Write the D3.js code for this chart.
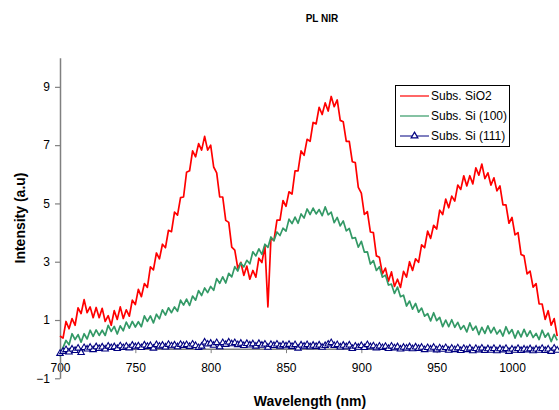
<!DOCTYPE html>
<html>
<head>
<meta charset="utf-8">
<script src="https://cdn.jsdelivr.net/npm/d3@7"></script>
<style>
  html, body { margin: 0; padding: 0; background: #fff; }
  svg { display: block; font-family: "Liberation Sans", Arial, sans-serif; }
</style>
</head>
<body>
<svg id="chart" width="559" height="410"></svg>
<script>
const title = "PL NIR";
const xLabel = "Wavelength (nm)";
const yLabel = "Intensity (a.u)";
const seriesNames = ["Subs. SiO2", "Subs. Si (100)", "Subs. Si (111)"];
const startWavelength = 700;
const stepWavelength = 2;
const xTicks = [700, 750, 800, 850, 900, 950, 1000];
const yTicks = [-1, 1, 3, 5, 7, 9];

const sio2 = [
0.45,0.38,0.95,0.70,1.05,0.82,1.42,1.22,1.70,1.25,
1.45,1.08,1.43,1.08,1.40,0.95,1.15,0.82,1.32,1.02,
1.45,1.05,1.35,1.13,1.68,1.53,2.05,1.80,2.25,2.12,
2.82,2.72,3.30,3.10,3.60,3.48,4.08,4.03,4.70,4.60,
5.20,5.22,6.07,6.12,6.80,6.60,7.05,6.83,7.30,6.83,
7.00,6.25,6.05,5.22,5.22,4.42,4.35,3.50,3.40,2.78,
2.98,2.53,2.85,2.40,2.70,2.47,3.12,2.97,3.55,1.45,
3.80,3.73,4.43,4.43,5.10,4.90,5.40,5.32,6.12,6.12,
6.80,6.65,7.20,7.13,7.78,7.73,8.30,8.05,8.45,8.17,
8.67,8.32,8.55,7.85,7.80,7.13,7.13,6.43,6.40,5.55,
5.35,4.62,4.72,4.02,4.00,3.20,3.15,2.58,2.78,2.33,
2.65,2.15,2.40,2.12,2.67,2.47,3.00,2.70,3.10,2.98,
3.58,3.48,4.05,3.80,4.25,4.12,4.77,4.62,5.15,4.85,
5.25,5.08,5.63,5.48,5.95,5.60,5.95,5.67,6.22,5.97,
6.35,5.85,6.05,5.63,5.88,5.43,5.60,4.95,4.95,4.32,
4.52,3.92,4.00,3.25,3.20,2.58,2.68,2.13,2.25,1.55,
1.55,1.02,1.32,0.82,1.05,0.45];

const si100 = [
-0.25,0.05,0.30,0.15,0.53,0.33,0.50,0.24,0.53,0.35,
0.65,0.44,0.66,0.47,0.65,0.47,0.82,0.61,0.78,0.52,
0.80,0.63,0.93,0.72,0.95,0.76,0.94,0.77,1.14,0.95,
1.14,0.90,1.20,1.04,1.35,1.17,1.42,1.25,1.45,1.30,
1.68,1.51,1.72,1.50,1.82,1.68,2.01,1.84,2.10,1.94,
2.15,2.02,2.42,2.26,2.48,2.27,2.60,2.48,2.83,2.68,
2.96,2.82,3.05,2.93,3.34,3.20,3.44,3.25,3.60,3.49,
3.85,3.72,4.02,3.90,4.15,4.05,4.46,4.31,4.53,4.32,
4.64,4.50,4.81,4.62,4.84,4.64,4.79,4.58,4.88,4.61,
4.70,4.34,4.52,4.23,4.40,4.06,4.14,3.80,3.83,3.50,
3.70,3.33,3.34,2.92,3.04,2.70,2.83,2.47,2.54,2.20,
2.23,1.91,2.13,1.80,1.85,1.48,1.65,1.37,1.57,1.27,
1.41,1.13,1.22,0.97,1.25,0.98,1.09,0.77,1.00,0.77,
1.01,0.75,0.92,0.68,0.81,0.59,0.90,0.65,0.79,0.50,
0.75,0.54,0.80,0.56,0.75,0.52,0.66,0.45,0.77,0.53,
0.67,0.38,0.63,0.42,0.68,0.44,0.63,0.40,0.54,0.33,
0.65,0.41,0.55,0.26,0.51,0.30];

const si111 = [
-0.15,-0.08,-0.02,-0.10,0.00,-0.05,0.03,-0.12,0.05,0.00,
0.06,-0.02,0.08,0.02,0.07,0.00,0.10,0.05,0.08,0.02,
0.11,0.05,0.10,0.04,0.13,0.08,0.11,0.05,0.14,0.09,
0.12,0.03,0.15,0.10,0.13,0.07,0.16,0.11,0.14,0.08,
0.16,0.12,0.15,0.09,0.17,0.12,0.05,0.10,0.24,0.17,
0.20,0.13,0.22,0.08,0.22,0.16,0.24,0.18,0.22,0.15,
0.20,0.12,0.19,0.14,0.18,0.10,0.19,0.13,0.17,0.06,
0.16,0.12,0.17,0.10,0.15,0.11,0.16,0.09,0.15,0.03,
0.14,0.10,0.15,0.08,0.13,0.09,0.14,0.06,0.12,0.17,
0.22,0.12,0.15,0.07,0.13,0.08,0.14,0.02,0.10,0.06,
0.12,0.05,0.15,0.08,0.11,0.04,0.10,0.05,0.09,0.02,
0.10,0.04,0.08,0.00,0.06,0.03,0.08,0.01,0.07,0.02,
0.06,-0.02,0.05,0.00,0.06,-0.03,0.04,-0.01,0.05,-0.04,
0.03,-0.02,0.04,-0.05,0.02,-0.02,0.03,-0.06,0.02,-0.03,
0.03,-0.05,0.01,-0.04,0.02,-0.06,0.01,-0.03,0.02,-0.08,
0.00,-0.04,0.02,-0.05,0.00,-0.03,0.01,-0.06,0.00,-0.04,
0.02,-0.05,0.00,-0.08,0.03,-0.04];

const colors = ["#ff0000", "#339966", "#000080"];

// ---- chart ----
const svg = d3.select("#chart");
const W = 559, H = 410;
svg.append("rect").attr("width", W).attr("height", H).attr("fill", "#fff");

const x = d3.scaleLinear().domain([700, 1000]).range([60, 512]);
const y = d3.scaleLinear().domain([-1, 10]).range([378.3, 57.7]);

const toPoints = vals => vals.map((v, i) => ({ w: startWavelength + i * stepWavelength, v }));
const series = [sio2, si100, si111].map(toPoints);

// axes
const axisColor = "#808080";
const xAxis = d3.axisBottom(x).tickValues(xTicks).tickFormat(d3.format("d"))
  .tickSize(4).tickPadding(10).tickSizeOuter(0);
const gx = svg.append("g").attr("transform", `translate(0,${y(0)})`).call(xAxis);
gx.select(".domain").remove();
gx.append("line").attr("x1", 60).attr("x2", W).attr("y1", 0).attr("y2", 0)
  .attr("stroke", axisColor).attr("stroke-width", 1.5);
gx.selectAll(".tick line").attr("stroke", axisColor);
gx.selectAll(".tick text").attr("fill", "#000").style("font-size", "12px")
  .style("font-family", '"Liberation Sans", Arial, sans-serif');

const yAxis = d3.axisLeft(y).tickValues(yTicks).tickFormat(d3.format("d"))
  .tickSize(5).tickPadding(5).tickSizeOuter(0);
const gy = svg.append("g").attr("transform", "translate(60,0)").call(yAxis);
gy.select(".domain").attr("stroke", axisColor).attr("stroke-width", 1.5);
gy.selectAll(".tick line").attr("stroke", axisColor).attr("stroke-width", 1.2);
gy.selectAll(".tick text").attr("fill", "#000").style("font-size", "12px")
  .style("font-family", '"Liberation Sans", Arial, sans-serif');

// lines
const line = d3.line().x(d => x(d.w)).y(d => y(d.v));
series.forEach((s, i) => {
  svg.append("path").datum(s).attr("fill", "none")
    .attr("stroke", colors[i]).attr("stroke-width", i === 2 ? 1.2 : 1.7)
    .attr("stroke-linejoin", "round").attr("d", line);
});
const tri = d3.symbol().type(d3.symbolTriangle).size(18);
svg.append("g").selectAll("path").data(series[2]).join("path")
  .attr("d", tri)
  .attr("transform", d => `translate(${x(d.w)},${y(d.v)})`)
  .attr("fill", "#fff").attr("stroke", colors[2]).attr("stroke-width", 1.1);

// title and axis labels
svg.append("text").attr("x", 322).attr("y", 22).attr("text-anchor", "middle")
  .style("font-size", "10px").style("font-weight", "bold").text(title);
svg.append("text").attr("x", 310).attr("y", 406).attr("text-anchor", "middle")
  .style("font-size", "14px").style("font-weight", "bold").text(xLabel);
svg.append("text").attr("transform", "translate(25,218) rotate(-90)")
  .attr("text-anchor", "middle")
  .style("font-size", "14px").style("font-weight", "bold").text(yLabel);

// legend
const lg = svg.append("g");
lg.append("rect").attr("x", 395.5).attr("y", 85.5).attr("width", 114).attr("height", 61)
  .attr("fill", "#fff").attr("stroke", "#000").attr("stroke-width", 1);
const rowY = [96, 116, 136];
seriesNames.forEach((name, i) => {
  lg.append("line").attr("x1", 400).attr("x2", 429).attr("y1", rowY[i]).attr("y2", rowY[i])
    .attr("stroke", colors[i]).attr("stroke-width", i === 2 ? 1 : 1.2);
  if (i === 2) {
    lg.append("path").attr("d", d3.symbol().type(d3.symbolTriangle).size(20)())
      .attr("transform", `translate(414.5,${rowY[i]})`)
      .attr("fill", "#fff").attr("stroke", colors[2]).attr("stroke-width", 1.2);
  }
  lg.append("text").attr("x", 431).attr("y", rowY[i]).attr("dy", "0.35em")
    .style("font-size", "12px").text(name);
});
</script>
